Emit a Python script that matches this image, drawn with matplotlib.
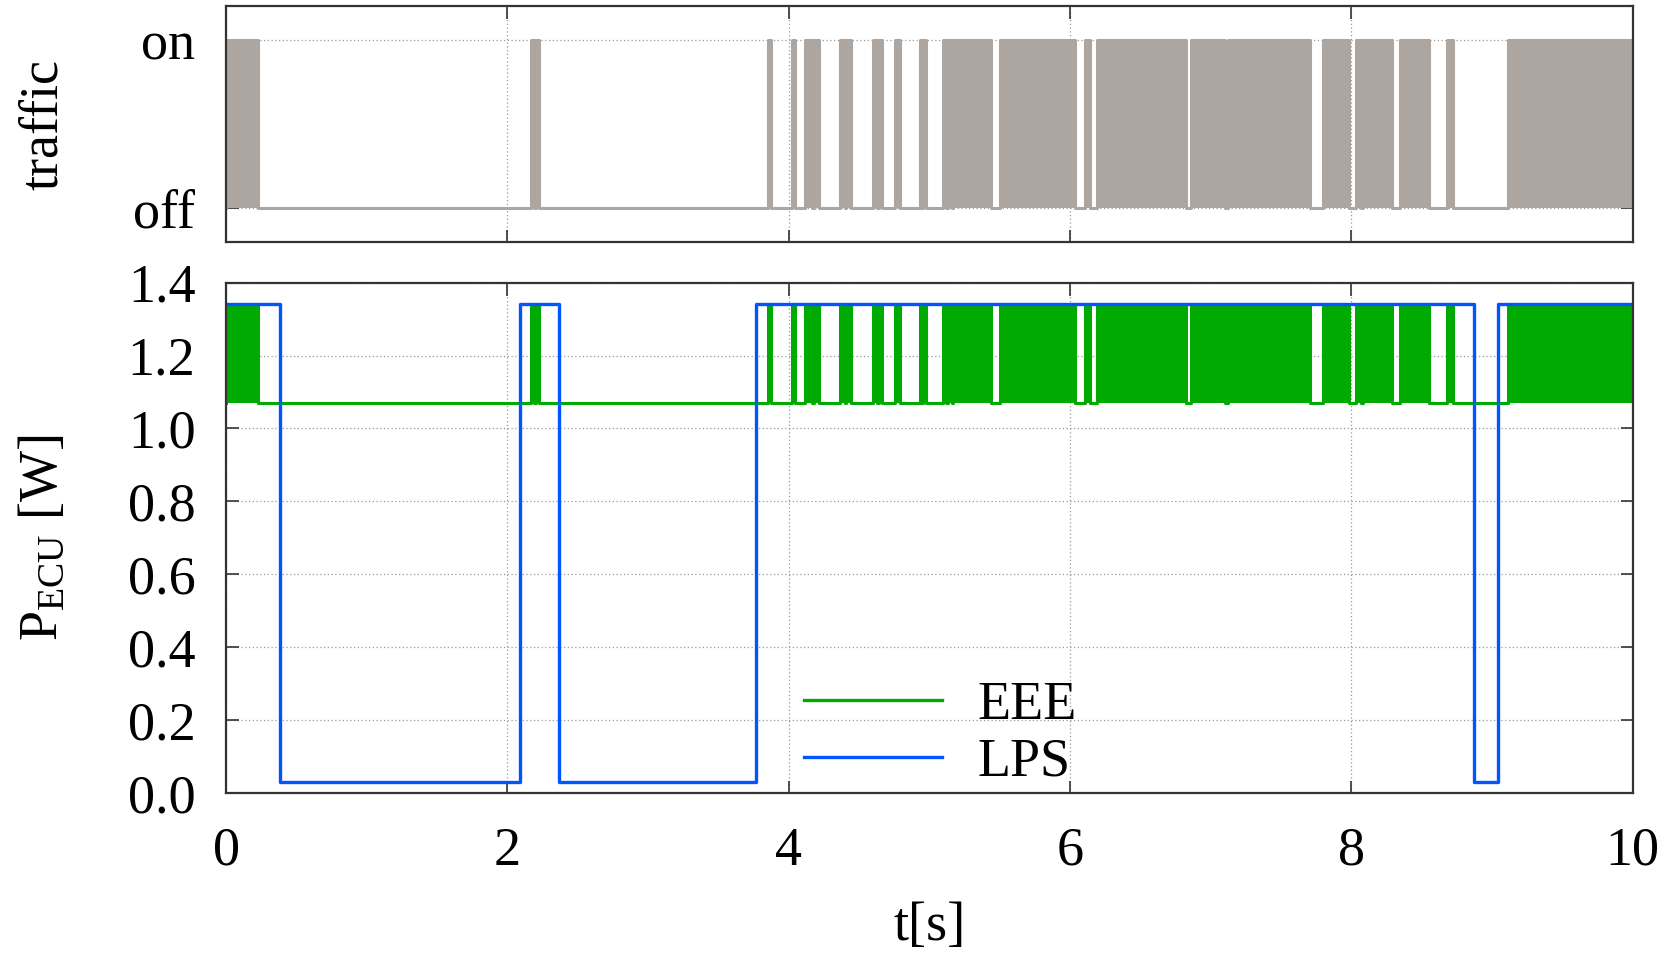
import matplotlib
matplotlib.use("Agg")
import matplotlib.pyplot as plt
from matplotlib.lines import Line2D

plt.rcParams['font.family'] = ['Liberation Serif', 'DejaVu Serif']
plt.rcParams['mathtext.fontset'] = 'custom'
plt.rcParams['mathtext.rm'] = 'Liberation Serif'
plt.rcParams['mathtext.it'] = 'Liberation Serif:italic'

# ---------------- data ----------------
t_min, t_max = 0.0, 10.0
# traffic bursts (on intervals) in seconds
burst_start = [0.000, 2.170, 2.205, 3.852, 4.023, 4.115, 4.179, 4.364, 4.407,
               4.598, 4.641, 4.755, 4.932, 4.954, 5.096, 5.131, 5.167, 5.501,
               6.105, 6.190, 6.859, 7.122, 7.797, 8.031, 8.081, 8.344, 8.678,
               9.112]
burst_end = [0.227, 2.190, 2.225, 3.873, 4.044, 4.165, 4.215, 4.399, 4.442,
             4.627, 4.662, 4.790, 4.947, 4.975, 5.117, 5.160, 5.437, 6.034,
             6.141, 6.823, 7.100, 7.704, 7.982, 8.067, 8.287, 8.550, 8.721,
             10.000]
traffic_off, traffic_on = 0.0, 1.0
traffic_ticklabels = ['off', 'on']

eee_low, eee_high = 1.07, 1.335

lps_times = [0.0, 0.38, 2.09, 2.37, 3.77, 8.87, 9.04, 10.0]
lps_levels = [1.34, 0.03, 1.34, 0.03, 1.34, 0.03, 1.34, 1.34]

x_ticks = [0, 2, 4, 6, 8, 10]
p_ticks = [0.0, 0.2, 0.4, 0.6, 0.8, 1.0, 1.2, 1.4]


def burst_signal(lo, hi):
    t = [t_min]
    y = [lo]
    for s, e in zip(burst_start, burst_end):
        t += [s, e]
        y += [hi, lo]
    t.append(t_max)
    y.append(lo)
    return t, y


GRAY = '#ada6a0'
GREEN = '#00aa00'
BLUE = '#0055ff'
FS = 39

fig = plt.figure(figsize=(16.72, 9.56), dpi=100)
ax1 = fig.add_axes([0.1352, 0.7469, 0.8412, 0.2464])
ax2 = fig.add_axes([0.1352, 0.1705, 0.8412, 0.5339])

grid_kw = dict(color='#999999', linestyle=(0, (1, 2)), linewidth=0.9)

for ax in (ax1, ax2):
    ax.set_xlim(t_min, t_max)
    ax.set_xticks(x_ticks)
    ax.tick_params(direction='in', length=9, width=1.2, top=True, right=True,
                   labelsize=FS, color='#333333')
    ax.grid(True, **grid_kw)
    ax.set_axisbelow(True)
    for sp in ax.spines.values():
        sp.set_linewidth(1.6)
        sp.set_color('#333333')

# --- traffic panel ---
tt, ty = burst_signal(traffic_off, traffic_on)
ax1.fill_between(tt, traffic_off, ty, step='post', color=GRAY, linewidth=0)
ax1.step(tt, ty, where='post', color=GRAY, linewidth=2.2)
ax1.set_ylim(-0.2, 1.2)
ax1.set_yticks([traffic_off, traffic_on])
ax1.set_yticklabels(traffic_ticklabels)
ax1.tick_params(axis='x', labelbottom=False)
ax1.tick_params(axis='y', pad=22)
ax1.set_ylabel('traffic', fontsize=FS)
ax1.yaxis.set_label_coords(-0.112, 0.5)

# --- power panel ---
et, ey = burst_signal(eee_low, eee_high)
ax2.fill_between(et, eee_low, ey, step='post', color=GREEN, linewidth=0)
ax2.step(et, ey, where='post', color=GREEN, linewidth=2.2, label='EEE')
ax2.step(lps_times, lps_levels, where='post', color=BLUE, linewidth=2.4, label='LPS')
ax2.set_ylim(0, 1.4)
ax2.set_yticks(p_ticks)
ax2.set_yticklabels([f'{v:.1f}' for v in p_ticks])
ax2.tick_params(axis='y', pad=22)
ax2.tick_params(axis='x', pad=24)
ax2.set_ylabel(r'P$_{\mathrm{ECU}}$ [W]', fontsize=FS)
ax2.yaxis.set_label_coords(-0.112, 0.5)
ax2.set_xlabel('t[s]', fontsize=FS)
ax2.xaxis.set_label_coords(0.5, -0.212)

handles = [Line2D([], [], color=GREEN, linewidth=2.4),
           Line2D([], [], color=BLUE, linewidth=2.4)]
ax2.legend(handles, ['EEE', 'LPS'], loc='center', bbox_to_anchor=(0.508, 0.116),
           frameon=False, fontsize=FS, handlelength=2.55, handletextpad=0.65,
           labelspacing=0.12, borderpad=0.2)

fig.savefig('out.png', dpi=100)
